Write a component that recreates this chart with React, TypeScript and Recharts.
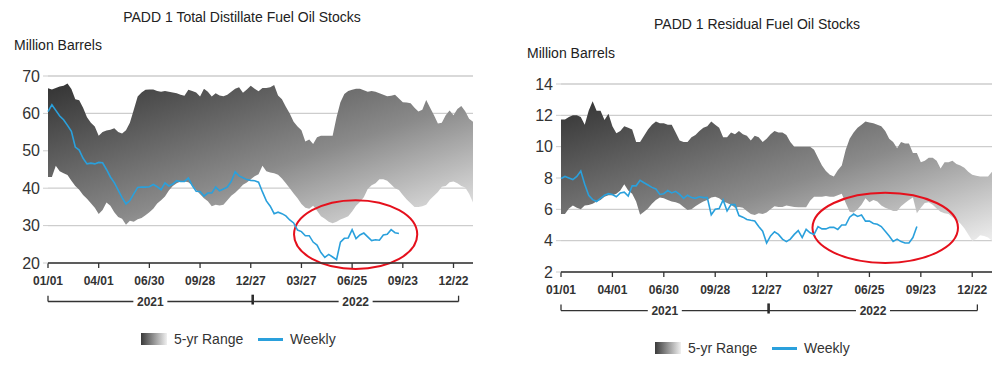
import React from 'react';
import {
  ComposedChart,
  Area,
  Line,
  XAxis,
  YAxis,
  CartesianGrid,
  ReferenceArea,
} from 'recharts';

// week index 0 = 01/01/2021, one point per week
const WEEK_TICKS = [0, 13, 26, 39, 52, 65, 78, 91, 104];
const WEEK_LABELS = ['01/01', '04/01', '06/30', '09/28', '12/27', '03/27', '06/25', '09/23', '12/22'];
const YEAR_LABELS = ['2021', '2022'];
const YEAR_BOUNDS = [0, 52.5, 105.3];

// PADD 1 Total Distillate Fuel Oil Stocks (million barrels)
const distHigh = [
  66.7, 66.4, 66.8, 67.2, 67.4, 68, 66.5, 63.8, 63.5, 61.5,
  59, 57.5, 56.5, 54, 55, 55.4, 55.6, 56, 55, 54.6,
  55.5, 57.5, 61, 64.5, 65.6, 66.3, 66.4, 66.4, 66, 65.8,
  66, 65.8, 65.6, 65.4, 65, 64.7, 66.3, 66, 65.6, 64.5,
  66.6, 65.8, 64.5, 65.4, 64.8, 64.6, 65, 65.8, 66.6, 67,
  65.5, 66.4, 67.4, 66.6, 65.9, 66.8, 66.8, 67, 67.6, 64.8,
  63.8, 61.8, 60, 57.8, 56.5, 55.5, 52.5, 53, 51.8, 53.6,
  54, 54, 54, 54, 59, 63, 65.2, 66, 66.3, 66.6,
  66.6, 66.2, 65.8, 66, 65.8, 65.4, 65, 64.6, 64.7, 65,
  64, 63, 62.9, 62.7, 61.5, 60.5, 61, 63.6, 61.5, 59.5,
  57.3, 57.5, 59.5, 60.8, 59.5, 61.2, 62, 60.6, 58.6, 57.8,
];
const distLow = [
  43, 43, 46, 44.5, 44, 43.5, 42, 40.6, 39.6, 38.2,
  37.2, 36, 34.8, 33.1, 34.2, 36.2, 35.3, 33.6, 32.3, 31.8,
  30.2, 31.3, 31, 31.7, 32, 32.8, 33.6, 34.5, 35.9, 36.8,
  37.8, 39.4, 40.6, 41.3, 41.8, 41.8, 41.6, 40.7, 39.5, 38.4,
  37.3, 36.5, 35.2, 35.6, 35.4, 35.6, 36.8, 38, 38.8, 39.8,
  40.9, 41.5, 42.4, 43.2, 43.7, 46, 44.5, 44.2, 44, 43.6,
  42.6, 41.3, 40, 38.6, 37.3, 35.8, 34.8, 34.5, 35.3, 34,
  32.5, 31.8, 31, 30.6, 31, 31.6, 32, 32.5, 33.8, 35.3,
  36.3, 37.6, 39.8, 40.8, 41.3, 42.4, 42.4, 42, 41, 40,
  39.5, 38.2, 37, 36, 35, 35, 35.2, 35.6, 37, 38,
  39, 40.4, 40.6, 41.6, 41.8, 41.3, 40.6, 40.2, 38.5, 36.2,
];
const distWeekly = [
  60.5, 62.3, 60.8, 59.3, 58.3, 56.8, 55.2, 51, 50.2, 48,
  46.5, 46.7, 46.5, 46.9, 46.8, 45, 43, 41.5, 39.5, 37.5,
  35.8, 36.7, 38.5, 40.2, 40.3, 40.3, 40.4, 41, 40.4, 39.6,
  41.4, 40.6, 41.1, 42, 41.8, 41.8, 42.7, 40.7, 39.2, 39.1,
  37.9, 38.7, 38.7, 40.3, 39.3, 39.8, 40.3, 41.8, 44.4, 43.3,
  42.8, 42.3, 42.1, 42, 41.6, 39, 36.6, 35.2, 33.2, 33.6,
  33.2, 32.6, 31.5, 30.7, 28.8, 28.4, 27.3, 27.3, 25.6, 24.8,
  22.8, 21.5, 22.3, 21.6, 20.9, 25.6, 26.6, 26.7, 28.9, 26.5,
  27.5, 28, 27, 26, 26.2, 26.1, 27.5, 27.7, 28.9, 28.1, 27.9,
];

// PADD 1 Residual Fuel Oil Stocks (million barrels)
const residHigh = [
  11.74, 11.74, 11.9, 12, 12, 11.9, 11.4, 12.3, 12.9, 12.3,
  12.3, 11.7, 12.1, 11.3, 10.85, 11, 11.3, 11.2, 11.1, 10.3,
  10.3, 10.7, 11.1, 11.4, 11.6, 11.5, 11.5, 11.4, 11.4, 10.9,
  10.4, 10.3, 10.3, 10.6, 10.75, 11, 11.2, 11.3, 11.6, 11.4,
  11.2, 10.6, 10.6, 10.9, 10.8, 11, 10.8, 10.7, 10.4, 10.7,
  10.6, 10.3, 10.5, 10.8, 11, 10.9, 10.9, 10.75, 10.3, 10,
  10, 10, 10, 10, 9.8, 9.3, 8.8, 8.45, 8.2, 8.1,
  8.5, 8.8, 9.8, 10.5, 10.9, 11.2, 11.4, 11.6, 11.55, 11.5,
  11.4, 11.3, 11, 10.5, 10.3, 9.9, 10.3, 10.2, 10.2, 9.6,
  9.6, 9, 9.1, 9.3, 9.3, 9.1, 8.6, 9, 9, 9.1,
  8.9, 8.8, 8.65, 8.4, 8.2, 8.15, 8.1, 8.1, 8.1, 8.4,
];
const residLow = [
  5.7, 5.7, 6.05, 6.25, 6.1, 6, 6.25, 6.28, 6.35, 6.5,
  6.6, 6.8, 6.9, 6.9, 7, 7.2, 7.6, 7.2, 7, 6.5,
  5.65, 5.85, 6.05, 6.35, 6.6, 6.75, 6.7, 6.6, 6.5, 6.45,
  6.35, 6.15, 5.96, 6, 6.2, 6.35, 6.5, 6.6, 6.75, 6.8,
  6.7, 6.5, 6.4, 6.3, 6.1, 6.15, 6.1, 5.9, 5.7, 5.64,
  5.75, 5.7, 5.8, 6, 6.2, 6.15, 6.15, 6.25, 6.2, 6.15,
  6.13, 6.13, 6.13, 6.55, 6.8, 6.8, 6.8, 6.85, 6.8, 6.8,
  6.9, 7, 6.4, 5.85, 5.8, 6, 6.3, 6.7, 6.45, 6.6,
  6.5, 6.25, 6.1, 6, 5.9, 5.9, 6.2, 6.4, 6.6, 6.75,
  5.75, 6.1, 6.4, 6.45, 6.3, 6.05, 5.85, 5.75, 5.7, 5.5,
  5.3, 5.1, 4.8, 4.4, 4, 4.1, 4.35, 4.3, 4.2, 4,
];
const residWeekly = [
  7.97, 8.1, 8.0, 7.9, 8.1, 8.45, 7.6, 6.9, 6.62, 6.5,
  6.7, 6.9, 7, 6.95, 6.8, 7.05, 7.1, 6.85, 7.5, 7.5,
  7.85, 7.7, 7.55, 7.4, 7.3, 6.95, 7, 7.2, 7.05, 7.15,
  6.95, 6.7, 6.9, 6.75, 6.7, 6.8, 6.75, 6.75, 5.65, 6,
  6.05, 6.6, 5.9, 6.3, 6.3, 5.6, 5.5, 5.35, 5.3, 5.26,
  4.9, 4.6, 3.85, 4.3, 4.57, 4.4, 4.1, 3.94, 4.1, 4.4,
  4.64, 4.2, 4.72, 4.5, 4.4, 4.9, 4.75, 4.75, 4.85, 4.85,
  4.72, 5, 5, 5.5, 5.7, 5.55, 5.64, 5.25, 5.25, 5.1,
  5.05, 4.9, 4.6, 4.3, 3.95, 4.1, 3.94, 3.85, 3.85, 4.2, 4.9,
];

const FONT = "'Liberation Sans', Arial, sans-serif";
const TEXT = '#333';
const BLUE = '#2aa0dc';

function buildRows(high: number[], low: number[], weekly: number[]) {
  return high.map((h, i) => ({ w: i, range: [low[i], h], weekly: weekly[i] }));
}

// year bracket under the date axis
const yearBracket = (label: string, divider: boolean) => (props: any) => {
  const { x, y, width, height } = props;
  const top = Math.min(y, y + height);
  const base = top + Math.abs(height);
  const mid = x + width / 2;
  return (
    <g>
      <line x1={x} y1={base} x2={x + width} y2={base} stroke="#333" strokeWidth={1.3} />
      <line x1={x} y1={top} x2={x} y2={base} stroke="#333" strokeWidth={1.3} />
      {divider ? (
        <line x1={x + width} y1={top - 1} x2={x + width} y2={base + 3} stroke="#222" strokeWidth={2.5} />
      ) : (
        <line x1={x + width} y1={top} x2={x + width} y2={base} stroke="#333" strokeWidth={1.3} />
      )}
      <rect x={mid - 17} y={base - 7} width={34} height={14} fill="#fff" />
      <text x={mid} y={base + 4} textAnchor="middle" fontSize={12} fontWeight="bold" fill={TEXT}>
        {label}
      </text>
    </g>
  );
};

const ring = (props: any) => {
  const { x, y, width, height } = props;
  const top = Math.min(y, y + height);
  return (
    <ellipse
      cx={x + width / 2}
      cy={top + Math.abs(height) / 2}
      rx={Math.abs(width) / 2}
      ry={Math.abs(height) / 2}
      fill="none"
      stroke="#e5101c"
      strokeWidth={2}
    />
  );
};

type PanelProps = {
  left: number;
  id: string;
  title: string;
  titleY: number;
  titleX: number;
  unitX: number;
  unitY: number;
  high: number[];
  low: number[];
  weekly: number[];
  yDomain: [number, number];
  yTicks: number[];
  yWidth: number;
  margin: { top: number; right: number; bottom: number; left: number };
  bracketY: [number, number];
  ringBox: [number, number, number, number];
  legendX: number;
  legendY: number;
};

function StockPanel(p: PanelProps) {
  const rows = buildRows(p.high, p.low, p.weekly);
  return (
    <div style={{ position: 'absolute', left: p.left, top: 0, width: 500, height: 366 }}>
      <div
        style={{
          position: 'absolute',
          left: p.titleX,
          top: p.titleY - 8,
          transform: 'translateX(-50%)',
          whiteSpace: 'nowrap',
          fontSize: 14,
          lineHeight: '16px',
          color: '#222',
        }}
      >
        {p.title}
      </div>
      <div
        style={{
          position: 'absolute',
          left: p.unitX,
          top: p.unitY - 8,
          fontSize: 14,
          lineHeight: '16px',
          color: '#222',
          whiteSpace: 'nowrap',
        }}
      >
        Million Barrels
      </div>

      <ComposedChart width={500} height={366} data={rows} margin={p.margin}>
        <defs>
          <linearGradient id={`range-${p.id}`} x1="0" y1="0" x2="1" y2="1">
            <stop offset="0%" stopColor="#333333" />
            <stop offset="56%" stopColor="#8a8a8a" />
            <stop offset="100%" stopColor="#eeeeee" />
          </linearGradient>
        </defs>
        <CartesianGrid vertical={false} stroke="#cdcdcd" strokeWidth={1.3} />
        <XAxis
          type="number"
          dataKey="w"
          domain={[0, 109]}
          ticks={WEEK_TICKS}
          interval={0}
          tickFormatter={(v: number) => WEEK_LABELS[WEEK_TICKS.indexOf(v)] ?? ''}
          height={30}
          tickSize={5}
          tickMargin={8}
          axisLine={{ stroke: '#333', strokeWidth: 1.5 }}
          tickLine={{ stroke: '#333', strokeWidth: 1.3 }}
          tick={{ fontSize: 12, fontWeight: 'bold', fill: TEXT }}
        />
        <YAxis
          type="number"
          domain={p.yDomain}
          ticks={p.yTicks}
          interval={0}
          allowDataOverflow
          width={p.yWidth}
          tickSize={5}
          tickMargin={3}
          axisLine={false}
          tickLine={{ stroke: '#cdcdcd' }}
          tick={{ fontSize: 16, fill: TEXT }}
        />
        <Area
          type="linear"
          dataKey="range"
          stroke="none"
          fill={`url(#range-${p.id})`}
          fillOpacity={1}
          isAnimationActive={false}
          activeDot={false}
        />
        <Line
          type="linear"
          dataKey="weekly"
          stroke={BLUE}
          strokeWidth={1.6}
          dot={false}
          activeDot={false}
          isAnimationActive={false}
        />
        {YEAR_LABELS.map((label, i) => (
          <ReferenceArea
            key={label}
            x1={YEAR_BOUNDS[i]}
            x2={YEAR_BOUNDS[i + 1]}
            y1={p.bracketY[0]}
            y2={p.bracketY[1]}
            ifOverflow="visible"
            shape={yearBracket(label, i === 0)}
          />
        ))}
        <ReferenceArea
          x1={p.ringBox[0]}
          x2={p.ringBox[1]}
          y1={p.ringBox[2]}
          y2={p.ringBox[3]}
          ifOverflow="visible"
          shape={ring}
        />
      </ComposedChart>

      {/* legend */}
      <div
        style={{
          position: 'absolute',
          left: p.legendX,
          top: p.legendY - 6,
          width: 26,
          height: 12,
          background: 'linear-gradient(to right, #3a3a3a, #f0f0f0)',
        }}
      />
      <div
        style={{
          position: 'absolute',
          left: p.legendX + 33,
          top: p.legendY - 8,
          fontSize: 14,
          lineHeight: '16px',
          color: TEXT,
          whiteSpace: 'nowrap',
        }}
      >
        5-yr Range
      </div>
      <div
        style={{
          position: 'absolute',
          left: p.legendX + 117,
          top: p.legendY - 1,
          width: 25,
          height: 3,
          background: BLUE,
        }}
      />
      <div
        style={{
          position: 'absolute',
          left: p.legendX + 149,
          top: p.legendY - 8,
          fontSize: 14,
          lineHeight: '16px',
          color: TEXT,
          whiteSpace: 'nowrap',
        }}
      >
        Weekly
      </div>
    </div>
  );
}

export default function App() {
  return (
    <div
      style={{
        position: 'absolute',
        left: 0,
        top: 0,
        width: 1000,
        height: 366,
        background: '#fff',
        fontFamily: FONT,
      }}
    >
      <StockPanel
        left={0}
        id="dist"
        title="PADD 1 Total Distillate Fuel Oil Stocks"
        titleX={242}
        titleY={17}
        unitX={14}
        unitY={45}
        high={distHigh}
        low={distLow}
        weekly={distWeekly}
        yDomain={[20, 70]}
        yTicks={[20, 30, 40, 50, 60, 70]}
        yWidth={48}
        margin={{ top: 76, right: 27, bottom: 73, left: 0 }}
        bracketY={[9.7, 11.26]}
        ringBox={[63.1, 94.7, 18.4, 36.8]}
        legendX={141}
        legendY={339}
      />
      <StockPanel
        left={500}
        id="resid"
        title="PADD 1 Residual Fuel Oil Stocks"
        titleX={257}
        titleY={24}
        unitX={27}
        unitY={53}
        high={residHigh}
        low={residLow}
        weekly={residWeekly}
        yDomain={[2, 14]}
        yTicks={[2, 4, 6, 8, 10, 12, 14]}
        yWidth={61}
        margin={{ top: 84, right: 8, bottom: 64, left: 0 }}
        bracketY={[-0.46, -0.07]}
        ringBox={[63.6, 100.4, 2.58, 7.06]}
        legendX={155}
        legendY={348}
      />
    </div>
  );
}
